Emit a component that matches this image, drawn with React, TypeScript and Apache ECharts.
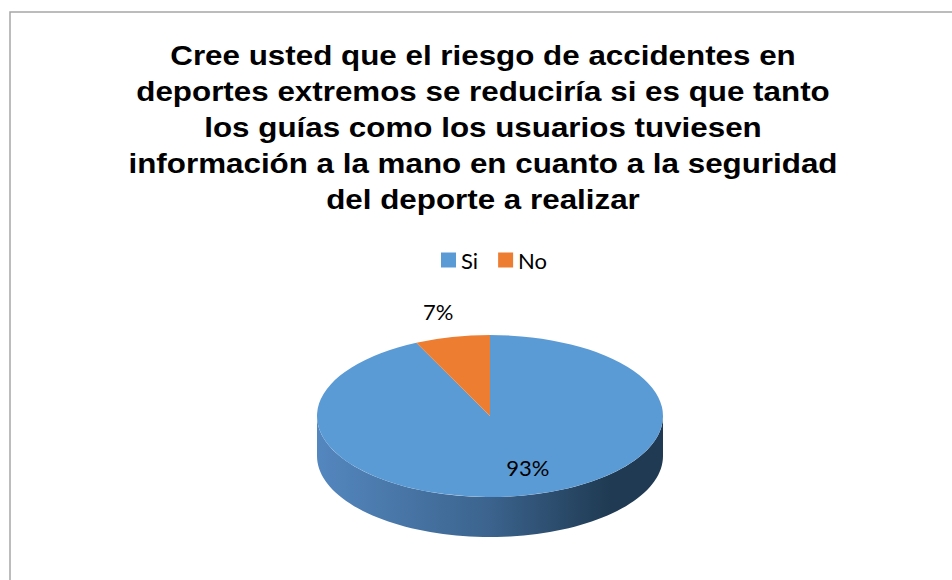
import React, { useEffect, useRef } from "react";
import * as echarts from "echarts";

const categories = ["Si", "No"];
const values = [93, 7];
const sliceLabels = ["93%", "7%"];
const sliceColors = ["#5b9bd5", "#ed7d31"];
const wallColors = [
  ["#5487bf", "#3b638d", "#1f3a52"],
  ["#d06a28", "#a9541d", "#7a3c13"],
];
const titleLines = [
  "Cree usted que el riesgo de accidentes en",
  "deportes extremos se reduciría si es que tanto",
  "los guías como los usuarios tuviesen",
  "información a la mano en cuanto a la seguridad",
  "del deporte a realizar",
];

const CX = 490;
const CY = 416;
const RX = 173;
const RY = 81;
const DEPTH = 40;
const TWO_PI = Math.PI * 2;

function sliceRange(i: number, v: number) {
  const total = values.reduce((a, b) => a + b, 0);
  let start = -Math.PI / 2;
  for (let j = 0; j < i; j++) start += (values[j] / total) * TWO_PI;
  const end = start + (v / total) * TWO_PI;
  return [start, end];
}

function wallPieces(start: number, end: number) {
  const pieces: number[][] = [];
  for (let k = -1; k <= 1; k++) {
    const a = Math.max(start, k * TWO_PI);
    const b = Math.min(end, k * TWO_PI + Math.PI);
    if (b > a) pieces.push([a, b]);
  }
  return pieces;
}

function renderSlice(i: number, v: number) {
  const [start, end] = sliceRange(i, v);
  const children: any[] = [];
  wallPieces(start, end).forEach(([a, b]) => {
    const pts: number[][] = [];
    const n = 80;
    for (let s = 0; s <= n; s++) {
      const t = a + ((b - a) * s) / n;
      pts.push([CX + RX * Math.cos(t), CY + RY * Math.sin(t)]);
    }
    for (let s = n; s >= 0; s--) {
      const t = a + ((b - a) * s) / n;
      pts.push([CX + RX * Math.cos(t), CY + DEPTH + RY * Math.sin(t)]);
    }
    children.push({
      type: "polygon",
      z2: 1,
      shape: { points: pts },
      style: {
        fill: {
          type: "linear",
          x: CX - RX,
          y: 0,
          x2: CX + RX,
          y2: 0,
          global: true,
          colorStops: [
            { offset: 0, color: wallColors[i][0] },
            { offset: 0.5, color: wallColors[i][1] },
            { offset: 0.85, color: wallColors[i][2] },
            { offset: 1, color: wallColors[i][2] },
          ],
        },
      },
    });
  });
  children.push({
    type: "sector",
    z2: 10,
    x: CX,
    y: CY,
    scaleY: RY / RX,
    shape: { cx: 0, cy: 0, r0: 0, r: RX, startAngle: start, endAngle: end, clockwise: true },
    style: { fill: sliceColors[i] },
  });
  const mid = (start + end) / 2;
  const frac = (end - start) / TWO_PI;
  const inside = frac > 0.2;
  const kx = inside ? 1.0 : 1.37;
  const ky = inside ? 0.65 : 1.32;
  children.push({
    type: "text",
    z2: 20,
    x: CX + RX * kx * Math.cos(mid),
    y: CY + RY * ky * Math.sin(mid),
    style: {
      text: sliceLabels[i],
      align: "center",
      verticalAlign: "middle",
      fontSize: 22,
      fontFamily: "Lato",
      fill: "#000000",
    },
  });
  return { type: "group", children };
}

export default function App() {
  const ref = useRef<HTMLDivElement>(null);
  useEffect(() => {
    if (!ref.current) return;
    const chart = echarts.init(ref.current, null, { renderer: "svg" });
    chart.setOption({
      animation: false,
      backgroundColor: "#ffffff",
      legend: {
        data: categories,
        top: 244,
        left: 436,
        icon: "rect",
        itemWidth: 15,
        itemHeight: 15,
        itemGap: 20,
        textStyle: { fontSize: 22, fontFamily: "Lato", color: "#000000" },
      },
      graphic: [
        {
          type: "rect",
          shape: { x: 10, y: 12, width: 960, height: 600 },
          style: { fill: "none", stroke: "#a6a6a6", lineWidth: 1.5 },
          silent: true,
        },
        {
          type: "text",
          x: 483,
          y: 37,
          scaleX: 1.12,
          style: {
            text: titleLines.join("\n"),
            align: "center",
            verticalAlign: "top",
            fontSize: 28,
            fontWeight: "bold",
            fontFamily: "'Liberation Sans', Arial, sans-serif",
            lineHeight: 36,
            fill: "#000000",
          },
        },
      ],
      series: categories.map((name, i) => ({
        type: "custom",
        name,
        coordinateSystem: "none",
        silent: true,
        itemStyle: { color: sliceColors[i] },
        data: [[values[i]]],
        renderItem: (_params: any, api: any) => renderSlice(i, api.value(0)),
      })),
    });
    return () => chart.dispose();
  }, []);
  return (
    <div
      ref={ref}
      style={{ position: "fixed", left: 0, top: 0, width: 952, height: 580 }}
    />
  );
}
